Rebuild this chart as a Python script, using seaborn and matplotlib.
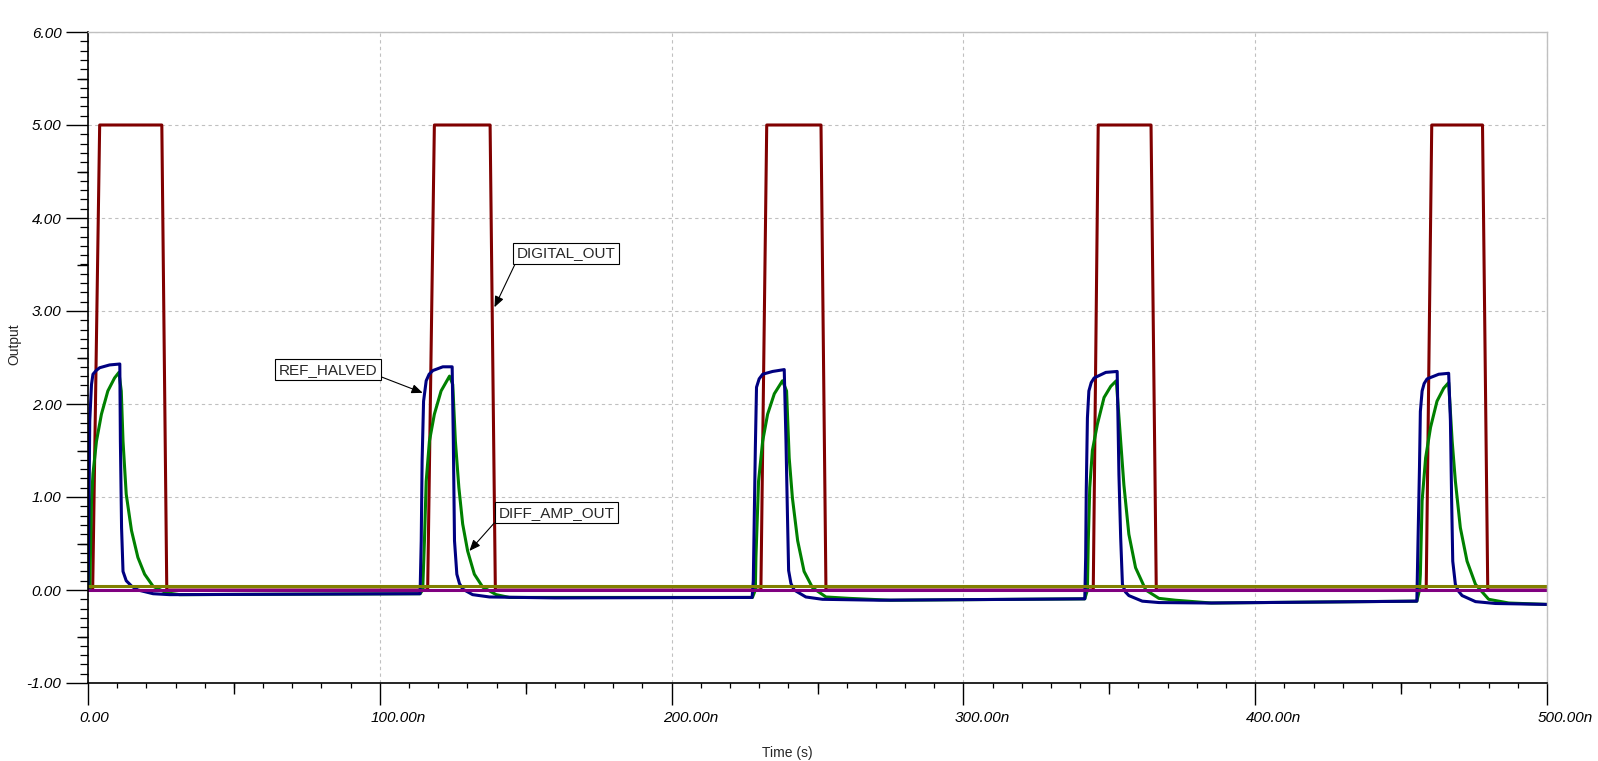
import numpy as np
import pandas as pd
import matplotlib
matplotlib.use("Agg")
import matplotlib.pyplot as plt
import matplotlib.transforms as mtransforms
from matplotlib.ticker import MultipleLocator
import seaborn as sns

# time in ns, values in volts
digital_t = [0, 1.6, 4.0, 25.3, 27.0,
             116.4, 118.7, 137.8, 139.6,
             230.6, 232.6, 251.2, 252.9,
             344.5, 346.2, 364.3, 366.1,
             458.6, 460.5, 477.9, 479.7, 500]
digital_v = [0, 0, 5, 5, 0,
             0, 5, 5, 0,
             0, 5, 5, 0,
             0, 5, 5, 0,
             0, 5, 5, 0, 0]

ref_t = [0, 0.2, 0.6, 1.2, 1.7, 2.8, 4.0, 7.4, 10.9, 11.1, 11.5, 12.0, 13.1, 15.0, 17.1, 22.3, 28.0, 70, 113.8,
         114.2, 114.5, 115.0, 115.9, 116.9, 118.2, 121.6, 124.8, 125.2, 125.6, 126.4, 127.3, 128.4, 131.8, 137.6, 160, 227.6,
         228.0, 228.3, 228.7, 229.1, 230.0, 231.2, 234.6, 238.6, 239.2, 239.7, 240.1, 240.9, 242.0, 246.0, 251.7, 271.1, 341.6,
         341.9, 342.1, 342.5, 343.0, 343.8, 344.8, 348.8, 352.7, 353.3, 353.9, 354.5, 355.5, 356.7, 361.3, 367.0, 384.1, 455.4,
         455.8, 456.3, 456.6, 457.2, 457.9, 458.9, 462.9, 466.3, 466.9, 467.3, 467.7, 468.6, 469.6, 470.9, 475.5, 482.3, 500]
ref_v = [0, 0.38, 1.82, 2.21, 2.32, 2.36, 2.39, 2.42, 2.43, 1.6, 0.67, 0.2, 0.1, 0.04, 0.0, -0.04, -0.05, -0.045, -0.04,
         0.53, 1.39, 2.03, 2.25, 2.32, 2.36, 2.40, 2.40, 1.6, 0.53, 0.17, 0.07, 0.01, -0.05, -0.075, -0.085, -0.08,
         0.1, 0.72, 1.53, 2.18, 2.27, 2.32, 2.35, 2.37, 1.6, 0.81, 0.21, 0.07, 0.0, -0.075, -0.10, -0.11, -0.095,
         0.35, 1.06, 1.85, 2.14, 2.23, 2.28, 2.34, 2.35, 1.24, 0.56, 0.06, -0.02, -0.06, -0.12, -0.135, -0.14, -0.12,
         0.53, 1.32, 1.92, 2.14, 2.22, 2.27, 2.32, 2.33, 1.82, 1.0, 0.31, 0.06, -0.01, -0.06, -0.125, -0.145, -0.155]

diff_t = [0, 0.6, 1.2, 1.7, 2.9, 4.6, 6.8, 9.1, 10.6, 11.4, 12.0, 13.1, 14.9, 17.1, 19.4, 22.3, 26.8, 31.4, 113.8,
          114.7, 115.3, 115.9, 117.0, 118.7, 121.0, 123.9, 125.0, 125.9, 127.1, 128.4, 130.1, 132.4, 135.3, 139.9, 144.4, 227.7,
          228.7, 228.9, 229.8, 231.2, 232.9, 235.2, 238.0, 239.4, 240.3, 241.4, 243.2, 245.4, 248.3, 252.9, 260.9, 275.0, 341.6,
          342.5, 342.8, 343.3, 344.2, 345.9, 348.2, 350.5, 352.4, 353.9, 355.0, 356.7, 359.0, 362.5, 367.0, 372.7, 385.0, 455.4,
          456.3, 456.6, 457.2, 458.4, 460.1, 462.3, 464.6, 466.3, 467.5, 468.6, 470.3, 472.6, 475.5, 480.0, 486.9, 500]
diff_v = [0, 0.0, 0.96, 1.25, 1.6, 1.89, 2.14, 2.28, 2.34, 2.14, 1.6, 1.03, 0.64, 0.35, 0.17, 0.04, -0.03, -0.05, -0.04,
          0.0, 0.53, 1.17, 1.6, 1.89, 2.14, 2.30, 2.21, 1.6, 1.1, 0.71, 0.42, 0.17, 0.03, -0.05, -0.08, -0.08,
          0.0, 0.35, 1.17, 1.6, 1.89, 2.11, 2.25, 2.14, 1.42, 0.99, 0.53, 0.2, 0.025, -0.075, -0.09, -0.11, -0.095,
          0.0, 0.53, 1.1, 1.5, 1.78, 2.07, 2.19, 2.25, 1.6, 1.13, 0.6, 0.24, 0.0, -0.09, -0.11, -0.14, -0.12,
          0.0, 0.17, 0.96, 1.42, 1.75, 2.03, 2.17, 2.23, 1.6, 1.17, 0.67, 0.31, 0.06, -0.1, -0.14, -0.155]

olive_t = [0, 500]
olive_v = [0.04, 0.04]
purple_t = [0, 500]
purple_v = [0.0, 0.0]

x_ticks = [0, 100, 200, 300, 400, 500]
x_labels = ["0.00", "100.00n", "200.00n", "300.00n", "400.00n", "500.00n"]
y_ticks = [-1, 0, 1, 2, 3, 4, 5, 6]
y_labels = ["-1.00", "0.00", "1.00", "2.00", "3.00", "4.00", "5.00", "6.00"]

series = [("DIGITAL_OUT", digital_t, digital_v),
          ("DIFF_AMP_OUT", diff_t, diff_v),
          ("REF_HALVED", ref_t, ref_v),
          ("level_olive", olive_t, olive_v),
          ("level_purple", purple_t, purple_v)]
df = pd.concat([pd.DataFrame({"signal": n, "t": t, "v": v}) for n, t, v in series],
               ignore_index=True)

palette = {"DIGITAL_OUT": "#800000", "DIFF_AMP_OUT": "#008000", "REF_HALVED": "#000080",
           "level_olive": "#808000", "level_purple": "#800080"}

sns.set_style("white")
plt.rcParams["font.family"] = ["Liberation Sans", "DejaVu Sans"]

fig = plt.figure(figsize=(15.98, 7.61), dpi=100)
ax = fig.add_axes([88 / 1598, 1 - 683 / 761, 1459 / 1598, 651 / 761])

sns.lineplot(data=df, x="t", y="v", hue="signal", hue_order=[s[0] for s in series],
             palette=palette, sort=False, estimator=None, legend=False,
             linewidth=2.2, ax=ax)

ax.set_xlim(0, 500)
ax.set_ylim(-1, 6)

for side in ["top", "right"]:
    ax.spines[side].set_color("#c0c0c0")
    ax.spines[side].set_linewidth(1.0)
for side in ["left", "bottom"]:
    ax.spines[side].set_color("black")
    ax.spines[side].set_linewidth(1.2)

ax.grid(True, which="major", color="#c0c0c0", linestyle=(0, (3, 3)), linewidth=0.8)
ax.set_axisbelow(True)

ax.xaxis.set_minor_locator(MultipleLocator(10))
ax.yaxis.set_minor_locator(MultipleLocator(0.1))
ax.tick_params(which="both", bottom=True, left=True, direction="out", color="black")
ax.tick_params(which="major", length=15.5, width=1.0, labelsize=11, labelcolor="black")
ax.tick_params(axis="x", which="major", pad=5)
ax.tick_params(axis="y", which="major", pad=3.6)
ax.tick_params(axis="y", which="minor", length=5.5, width=0.9)
ax.tick_params(axis="x", which="minor", length=3.5, width=0.9)

# half-way ticks, a bit longer than the minor ones
secx = ax.secondary_xaxis("bottom")
secx.set_xticks([50, 150, 250, 350, 450])
secx.tick_params(length=7.7, width=1.0, labelbottom=False, color="black")
secx.spines["bottom"].set_visible(False)
secy = ax.secondary_yaxis("left")
secy.set_yticks([-0.5, 0.5, 1.5, 2.5, 3.5, 4.5, 5.5])
secy.tick_params(length=8, width=1.0, labelleft=False, color="black")
secy.spines["left"].set_visible(False)

ax.set_xticks(x_ticks)
ax.set_xticklabels(x_labels, fontstyle="italic", ha="left")
ax.set_yticks(y_ticks)
ax.set_yticklabels(y_labels, fontstyle="italic")
shift = mtransforms.ScaledTranslation(-9 / 100, 0, fig.dpi_scale_trans)
for lbl in ax.get_xticklabels():
    lbl.set_transform(lbl.get_transform() + shift)

ax.set_xlabel("Time (s)", fontsize=10)
ax.xaxis.set_label_coords(0.479, -0.097)
ax.set_ylabel("Output", fontsize=10)
ax.yaxis.set_label_coords(-0.046, 0.52)

box = dict(boxstyle="square,pad=0.24", fc="white", ec="black", lw=0.8)
arrow = dict(arrowstyle="-|>,head_length=0.6,head_width=0.25", color="black",
             lw=0.8, shrinkA=0, shrinkB=0)
ax.annotate("DIGITAL_OUT", xy=(139.3, 3.04), xytext=(163.9, 3.62), ha="center", va="center",
            fontsize=11, bbox=box, arrowprops=dict(arrow, relpos=(0, 0)))
ax.annotate("REF_HALVED", xy=(114.7, 2.12), xytext=(82.1, 2.37), ha="center", va="center",
            fontsize=11, bbox=box, arrowprops=dict(arrow, relpos=(1, 0.1)))
ax.annotate("DIFF_AMP_OUT", xy=(130.7, 0.42), xytext=(160.5, 0.83), ha="center", va="center",
            fontsize=11, bbox=box, arrowprops=dict(arrow, relpos=(0, 0.1)))

plt.savefig("out.png", dpi=100)
